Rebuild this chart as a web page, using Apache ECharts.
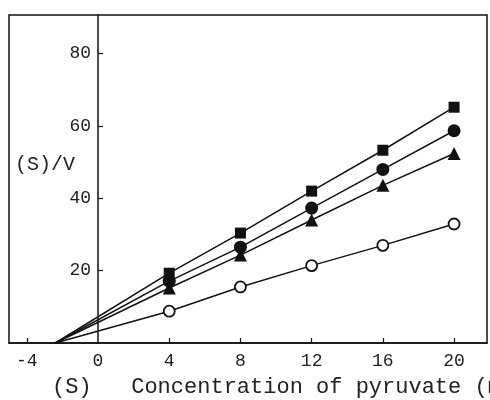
<!DOCTYPE html>
<html>
<head>
<meta charset="utf-8">
<script src="https://cdn.jsdelivr.net/npm/echarts@6/dist/echarts.min.js"></script>
<style>
html,body{margin:0;padding:0;background:#fff;}
#chart{width:490px;height:400px;}
</style>
</head>
<body>
<div id="chart"></div>
<script>
// Data
var xValues = [4, 8, 12, 16, 20];
var squares = [19.3, 30.4, 42.0, 53.3, 65.2];
var filledCircles = [17.1, 26.5, 37.3, 48.0, 58.7];
var triangles = [15.2, 24.3, 34.0, 43.6, 52.4];
var openCircles = [8.8, 15.5, 21.4, 27.0, 32.9];
var xIntercept = -2.4;          // common x-intercept of the fitted lines
var xTickValues = [-4, 0, 4, 8, 12, 16, 20];
var yTickValues = [20, 40, 60, 80];
var xTitle = '(S)   Concentration of pyruvate (mM)';
var yTitle = '(S)/V';

var FONT = '"Liberation Mono", "DejaVu Sans Mono", monospace';
var X_MIN = -5, X_MAX = 21.85;
var GRID_LEFT = 9, GRID_RIGHT = 3, W = 490;

function buildData(ys) {
  var d = [{ value: [xIntercept, 0], symbol: 'none' }];
  for (var i = 0; i < xValues.length; i++) d.push([xValues[i], ys[i]]);
  return d;
}

function mkSeries(ys, symbol, size, fill) {
  return {
    type: 'line',
    data: buildData(ys),
    symbol: symbol,
    symbolSize: size,
    showAllSymbol: true,
    lineStyle: { color: '#111', width: 1.5 },
    itemStyle: { color: fill, borderColor: '#111', borderWidth: fill === '#fff' ? 1.8 : 0 },
    emphasis: { disabled: true },
    animation: false
  };
}

// shift of the y axis from the grid's left edge to the x = 0 position
var plotW = W - GRID_LEFT - GRID_RIGHT;
var yAxisShift = (0 - X_MIN) / (X_MAX - X_MIN) * plotW;

var chart = echarts.init(document.getElementById('chart'), null, { renderer: 'canvas' });
chart.setOption({
  backgroundColor: '#fff',
  animation: false,
  grid: {
    left: GRID_LEFT, top: 15, right: GRID_RIGHT, bottom: 57,
    outerBoundsMode: 'none', containLabel: false,
    show: true, borderColor: '#111', borderWidth: 1.5, backgroundColor: 'transparent'
  },
  xAxis: {
    type: 'value',
    min: X_MIN, max: X_MAX,
    splitLine: { show: false },
    axisLine: { onZero: false, lineStyle: { color: '#111', width: 1.5 } },
    axisTick: { show: true, inside: true, length: 5, customValues: [-4, 4, 8, 12, 16, 20], lineStyle: { color: '#111', width: 1.2 } },
    axisLabel: { customValues: xTickValues, margin: 9, color: '#222', fontFamily: FONT, fontSize: 18 }
  },
  yAxis: {
    type: 'value',
    position: 'left',
    offset: -yAxisShift,
    min: 0, max: 90.7,
    splitLine: { show: false },
    axisLine: { onZero: false, lineStyle: { color: '#111', width: 1.5 } },
    axisTick: { show: true, inside: true, length: 5, customValues: yTickValues, lineStyle: { color: '#111', width: 1.2 } },
    axisLabel: { customValues: yTickValues, margin: 7, color: '#222', fontFamily: FONT, fontSize: 18 }
  },
  graphic: [
    { type: 'text', left: 52, top: 376, style: { text: xTitle, fontFamily: FONT, fontSize: 22, fill: '#222' } },
    { type: 'text', left: 15, top: 155, style: { text: yTitle, fontFamily: FONT, fontSize: 20, fill: '#222' } }
  ],
  series: [
    mkSeries(openCircles, 'circle', 11, '#fff'),
    mkSeries(triangles, 'triangle', 13, '#111'),
    mkSeries(filledCircles, 'circle', 13, '#111'),
    mkSeries(squares, 'rect', 11, '#111')
  ]
});
</script>
</body>
</html>
